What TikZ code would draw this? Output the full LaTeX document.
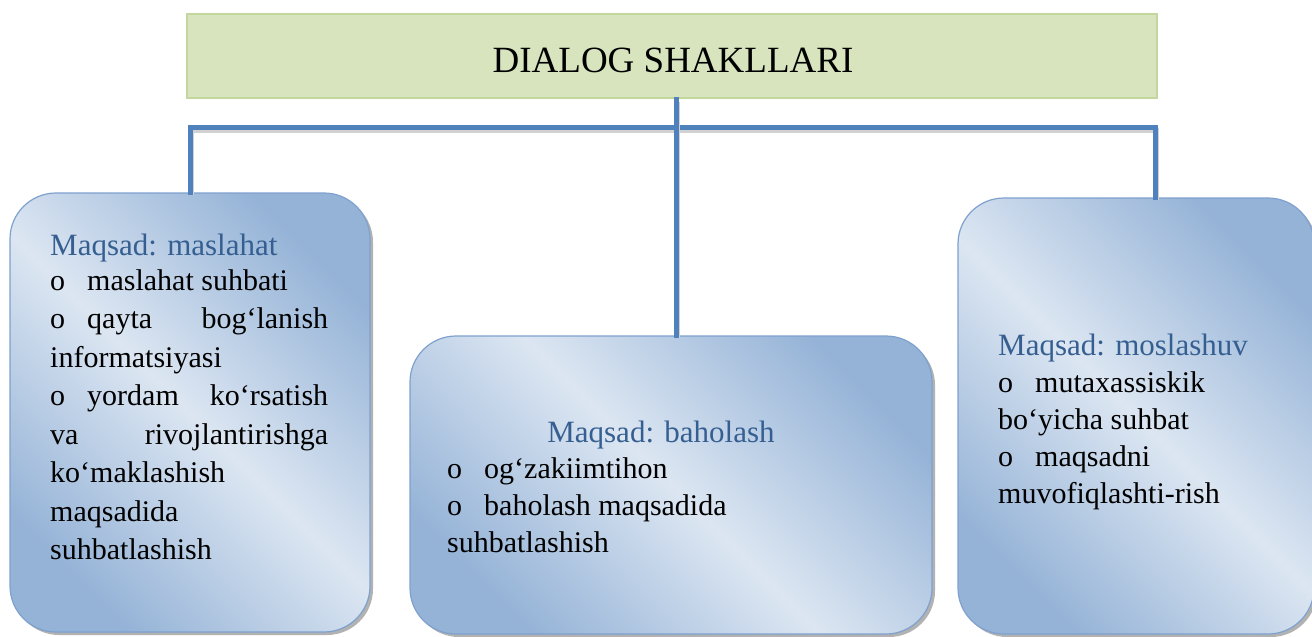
\documentclass[tikz,border=0pt]{standalone}
\usepackage{fontspec}
\setmainfont{Liberation Serif}
\usetikzlibrary{shadows}
\definecolor{boxdark}{HTML}{95B3D7}
\definecolor{boxlight}{HTML}{DCE6F2}
\definecolor{boxline}{HTML}{7EA1CE}
\definecolor{headblue}{HTML}{365F91}
\definecolor{titlefill}{HTML}{D7E4BD}
\definecolor{titleline}{HTML}{C3D69B}
\definecolor{connblue}{HTML}{4F81BD}
\newcommand{\bul}{\makebox[37pt][l]{o}}
\tikzset{
  titlebox/.style={draw=titleline, line width=2.5pt, fill=titlefill, inner sep=0pt},
  goalbox/.style={draw=boxline, line width=1.2pt, rounded corners=46pt, inner sep=0pt,
    top color=boxdark, bottom color=boxdark, middle color=boxlight, shading angle=-45,
    drop shadow={shadow xshift=3pt, shadow yshift=-3pt, fill=black!55, opacity=0.55}},
  conn/.style={draw=connblue, line width=5pt, line join=miter, line cap=rect,
    preaction={draw=black!18, line width=5pt, transform canvas={xshift=1.5pt, yshift=-3pt}}},
  heading/.style={text=headblue, inner sep=0pt, font=\fontsize{31}{37}\selectfont},
  body/.style={inner sep=0pt, anchor=base west, align=left},
}
\begin{document}
\begin{tikzpicture}[x=1pt, y=-1pt]
\clip (0,0) rectangle (1312,637);
\fill[white] (0,0) rectangle (1312,637);

% title
\node[titlebox, minimum width=970pt, minimum height=84pt] (t) at (672,56) {};
\node[inner sep=0pt, anchor=base, font=\fontsize{37}{40}\selectfont] (tt) at (673,72) {DIALOG SHAKLLARI};

% boxes
\node[goalbox, minimum width=360pt, minimum height=439pt] (l) at (190,412.5) {};
\node[goalbox, minimum width=522pt, minimum height=298pt] (m) at (671,485) {};
\node[goalbox, minimum width=356pt, minimum height=436pt] (r) at (1136,416) {};

% connectors
\coordinate (bl) at (190,127);
\coordinate (br) at (1155,127);
\draw[conn] (l.north) -- (l.north |- bl) -- (br) -- (br |- r.north);
\draw[conn] ([xshift=4pt]t.south) -- ([xshift=4pt]t.south |- m.north);

% left text
\node[heading, anchor=base west] (lh) at (50,255) {Maqsad: maslahat};
\node[body] (lb) at (50,290) {\parbox[t]{278pt}{\fontsize{30}{38.5}\selectfont
\bul maslahat suhbati\\
\makebox[278pt][l]{\bul qayta\hfill bog‘lanish}\\
informatsiyasi\\
\makebox[278pt][l]{\bul yordam\hfill ko‘rsatish}\\
\makebox[278pt][l]{va\hfill rivojlantirishga}\\
ko‘maklashish\\
maqsadida\\
suhbatlashish}};

% middle text
\node[heading, anchor=base] (mh) at (661,442) {Maqsad: baholash};
\node[body] (mb) at (447,478) {\parbox[t]{420pt}{\fontsize{30}{37}\selectfont
\bul og‘zakiimtihon\\
\bul baholash maqsadida\\
suhbatlashish}};

% right text
\node[heading, anchor=base west] (rh) at (998,355) {Maqsad: moslashuv};
\node[body] (rb) at (998,392) {\parbox[t]{300pt}{\fontsize{30}{37}\selectfont
\bul mutaxassiskik\\
bo‘yicha suhbat\\
\bul maqsadni\\
muvofiqlashti-rish}};
\end{tikzpicture}
\end{document}
